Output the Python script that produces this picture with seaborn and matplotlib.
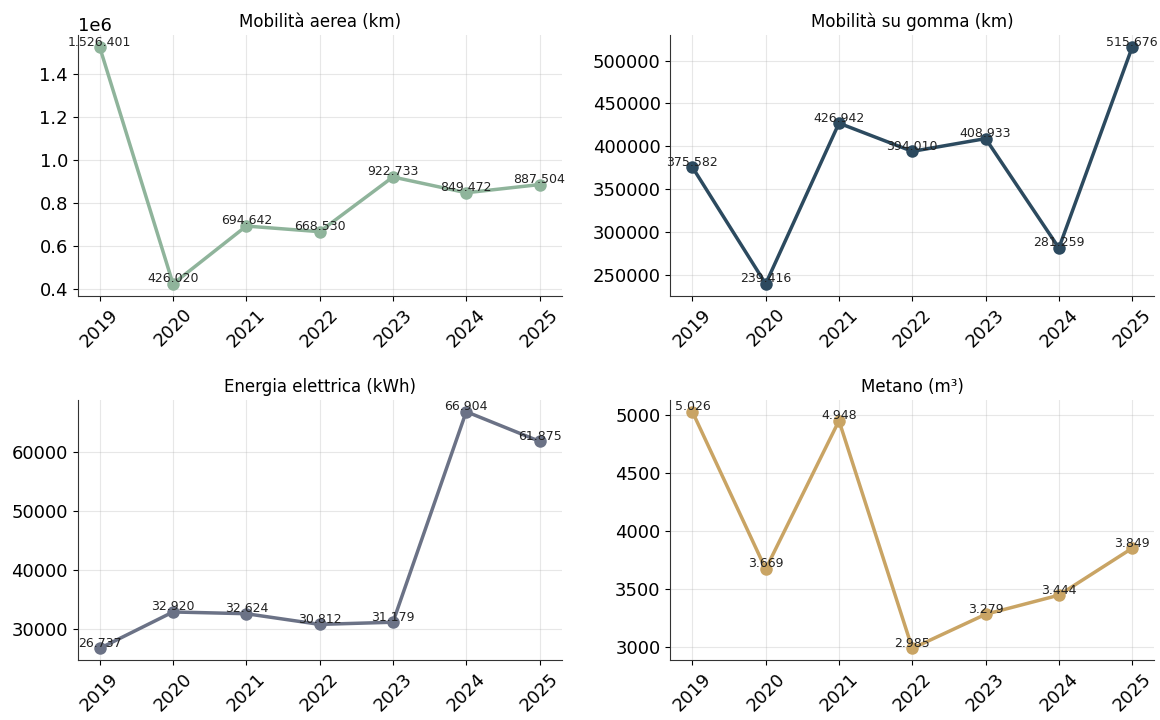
import matplotlib
matplotlib.use("Agg")
import matplotlib.pyplot as plt
import seaborn as sns
import pandas as pd

years = [2019, 2020, 2021, 2022, 2023, 2024, 2025]
aerea = [1526401, 426020, 694642, 668530, 922733, 849472, 887504]
gomma = [375582, 239416, 426942, 394010, 408933, 281259, 515676]
energia = [26737, 32920, 32624, 30812, 31179, 66904, 61875]
metano = [5026, 3669, 4948, 2985, 3279, 3444, 3849]

titles = ["Mobilità aerea (km)", "Mobilità su gomma (km)",
          "Energia elettrica (kWh)", "Metano (m³)"]
colors = ["#8fb49b", "#2c4a5f", "#6b7286", "#c9a464"]
series = [aerea, gomma, energia, metano]

plt.rcParams["font.family"] = ["DejaVu Sans"]

fig, axes = plt.subplots(2, 2, figsize=(11.6, 7.2), dpi=100)
fig.subplots_adjust(left=0.067, right=0.995, top=0.951, bottom=0.083,
                    wspace=0.225, hspace=0.4)

for ax, title, color, values in zip(axes.flat, titles, colors, series):
    df = pd.DataFrame({"anno": years, "valore": values})
    sns.lineplot(data=df, x="anno", y="valore", ax=ax, color=color,
                 marker="o", markersize=9, markeredgewidth=0, linewidth=2.5)
    for x, y in zip(years, values):
        ax.annotate(f"{y:,}".replace(",", "."), (x, y), xytext=(0, -1),
                    textcoords="offset points", ha="center", va="bottom",
                    fontsize=9, color="#222222")
    ax.set_title(title, fontsize=12)
    ax.set_xlabel("")
    ax.set_ylabel("")
    ax.set_xticks(years)
    ax.set_xticklabels([str(y) for y in years], rotation=45, fontsize=13)
    ax.tick_params(axis="y", labelsize=13)
    ax.yaxis.get_offset_text().set_fontsize(13)
    ax.grid(True, alpha=0.3)
    for side in ("left", "bottom"):
        ax.spines[side].set_color("#333333")
    sns.despine(ax=ax)

fig.savefig("out.png", dpi=100)
